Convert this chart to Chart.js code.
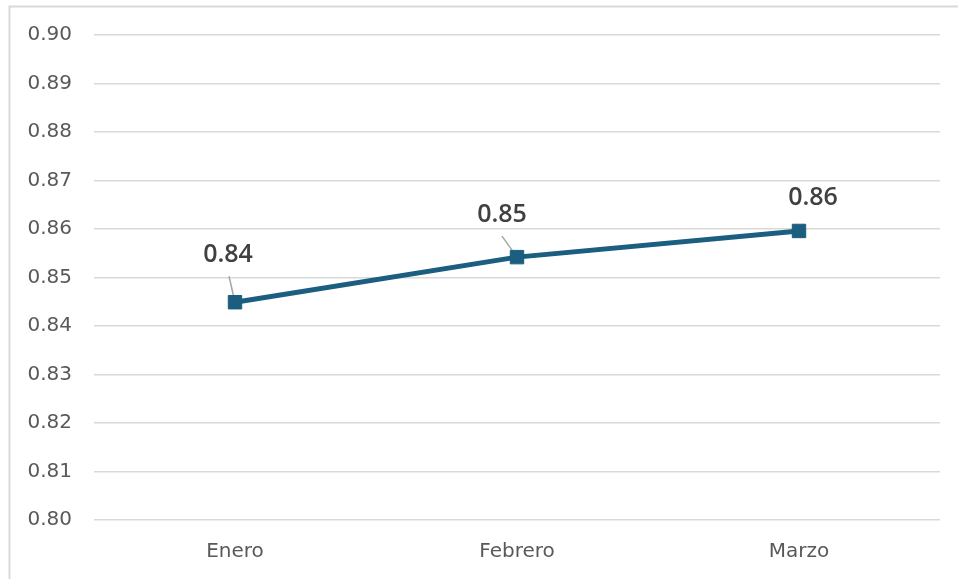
<!DOCTYPE html>
<html>
<head>
<meta charset="utf-8">
<script src="https://cdn.jsdelivr.net/npm/chart.js@4.4.1/dist/chart.umd.min.js"></script>
<style>
  html, body { margin: 0; padding: 0; background: #ffffff; }
  #wrap { width: 958px; height: 579px; position: relative; }
</style>
</head>
<body>
<div id="wrap"><canvas id="chart" width="958" height="579"></canvas></div>
<script>
// Monthly values
const months = ['Enero', 'Febrero', 'Marzo'];
const values = [0.8449, 0.8542, 0.8596];

// Y axis range
const yMin = 0.80;
const yMax = 0.90;
const yStep = 0.01;

const FONT = '"DejaVu Sans", sans-serif';
const LABEL_FONT = '600 25px "Open Sans", "DejaVu Sans", sans-serif';
const LINE_COLOR = '#1b5e80';

// Outer frame of the chart box (left and top edges)
const framePlugin = {
  id: 'frame',
  beforeDraw(chart) {
    const ctx = chart.ctx;
    ctx.save();
    ctx.strokeStyle = '#d9d9d9';
    ctx.lineWidth = 2;
    ctx.beginPath();
    ctx.moveTo(9.5, chart.height);
    ctx.lineTo(9.5, 6.5);
    ctx.lineTo(chart.width, 6.5);
    ctx.stroke();
    ctx.restore();
  }
};

// Value labels; leader lines are drawn under the markers, text on top
const valueLabelPlugin = {
  id: 'valueLabels',
  beforeDatasetsDraw(chart, args, opts) {
    const ctx = chart.ctx;
    const meta = chart.getDatasetMeta(0);
    ctx.save();
    ctx.strokeStyle = '#a6a6a6';
    ctx.lineWidth = 1.5;
    meta.data.forEach((pt, i) => {
      const off = opts.offsets[i];
      if (!off.leader) return;
      ctx.beginPath();
      ctx.moveTo(pt.x + off.dx + off.leader[0], pt.y + off.dy + off.leader[1]);
      ctx.lineTo(pt.x, pt.y);
      ctx.stroke();
    });
    ctx.restore();
  },
  afterDatasetsDraw(chart, args, opts) {
    const ctx = chart.ctx;
    const meta = chart.getDatasetMeta(0);
    const data = chart.data.datasets[0].data;
    ctx.save();
    ctx.fillStyle = '#404040';
    ctx.font = LABEL_FONT;
    ctx.textAlign = 'center';
    ctx.textBaseline = 'middle';
    meta.data.forEach((pt, i) => {
      const off = opts.offsets[i];
      ctx.fillText(data[i].toFixed(2), pt.x + off.dx, pt.y + off.dy);
    });
    ctx.restore();
  }
};

new Chart(document.getElementById('chart'), {
  type: 'line',
  data: {
    labels: months,
    datasets: [{
      data: values,
      borderColor: LINE_COLOR,
      backgroundColor: LINE_COLOR,
      borderWidth: 5,
      pointStyle: 'rect',
      pointRadius: 9.5,
      pointBorderWidth: 1,
      pointBorderColor: LINE_COLOR,
      pointBackgroundColor: LINE_COLOR,
      tension: 0,
      fill: false
    }]
  },
  options: {
    responsive: false,
    animation: false,
    devicePixelRatio: 1,
    layout: { padding: { left: 0, top: 35, right: 18, bottom: 0 } },
    plugins: {
      legend: { display: false },
      tooltip: { enabled: false },
      valueLabels: {
        offsets: [
          { dx: -7, dy: -47, leader: [1, 21] },
          { dx: -15, dy: -42, leader: [0, 21] },
          { dx: 14, dy: -33 }
        ]
      }
    },
    scales: {
      x: {
        offset: true,
        grid: { display: false },
        border: { display: false },
        ticks: {
          color: '#595959',
          font: { family: FONT, size: 20 },
          padding: 12
        },
        afterFit(scale) { scale.height = 59; }
      },
      y: {
        min: yMin,
        max: yMax,
        border: { display: false },
        grid: { color: '#d9d9d9', lineWidth: 1.5, drawTicks: false },
        ticks: {
          stepSize: yStep,
          color: '#595959',
          font: { family: FONT, size: 20 },
          padding: 22,
          callback: (v) => Number(v).toFixed(2)
        },
        afterFit(scale) { scale.width = 94; }
      }
    }
  },
  plugins: [framePlugin, valueLabelPlugin]
});
</script>
</body>
</html>
